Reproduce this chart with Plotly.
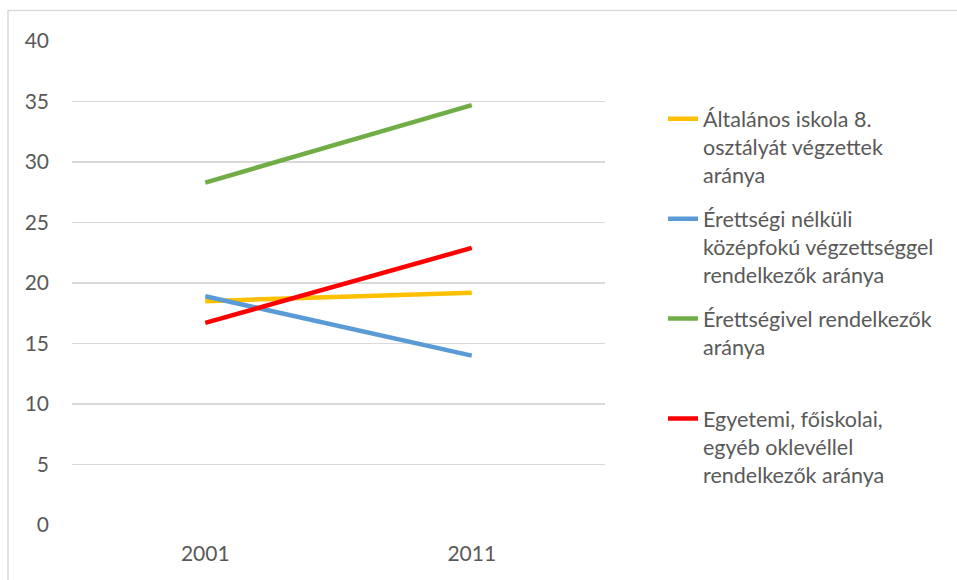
import plotly.graph_objects as go

years = ["2001", "2011"]
altalanos = [18.5, 19.2]
szakmunkas = [18.9, 14.0]
erettsegi = [28.3, 34.7]
diploma = [16.7, 22.9]

names = [
    "Általános iskola 8.<br>osztályát végzettek<br>aránya",
    "Érettségi nélküli<br>középfokú végzettséggel<br>rendelkezők aránya",
    "Érettségivel rendelkezők<br>aránya<br> ",
    "Egyetemi, főiskolai,<br>egyéb oklevéllel<br>rendelkezők aránya",
]
series = [altalanos, szakmunkas, erettsegi, diploma]
colors = ["#FFC000", "#5B9BD5", "#70AD47", "#FF0000"]

y_ticks = [0, 5, 10, 15, 20, 25, 30, 35, 40]

FONT = "Lato"
TXT = "#595959"

fig = go.Figure()
for i, (nm, vals, col) in enumerate(zip(names, series, colors)):
    fig.add_trace(go.Scatter(
        x=years, y=vals, mode="lines", name=nm,
        legendgroup=f"g{i}",
        line=dict(color=col, width=4.5),
        hoverinfo="skip",
    ))

L, R, T, B = 72, 352, 40.5, 54.5
W, H = 957, 580
pw = W - L - R
ph = H - T - B

def px_x(p):
    return (p - L) / pw

def px_y(p):
    return (H - B - p) / ph

fig.update_layout(
    width=W, height=H,
    margin=dict(l=L, r=R, t=T, b=B, autoexpand=False),
    paper_bgcolor="white", plot_bgcolor="white",
    font=dict(family=FONT, size=21, color=TXT),
    xaxis=dict(type="category", range=[-0.5, 1.5], showgrid=False,
               showline=False, zeroline=False, ticks="", ticklabelstandoff=14),
    yaxis=dict(range=[0, 40], tickvals=y_ticks, showgrid=True,
               gridcolor="#D9D9D9", gridwidth=1.2, zeroline=False,
               showline=False, ticks="", ticklabelstandoff=22),
    legend=dict(x=px_x(663), y=px_y(98), xanchor="left", yanchor="top",
                font=dict(family=FONT, size=21.5, color=TXT),
                valign="top", tracegroupgap=13, bgcolor="rgba(0,0,0,0)"),
    showlegend=True,
    shapes=[dict(type="rect", xref="paper", yref="paper",
                 x0=px_x(8), x1=px_x(970), y0=px_y(590), y1=px_y(10),
                 line=dict(color="#D9D9D9", width=1.5), layer="below")],
)

fig.write_html(
    "out.html",
    config={"displayModeBar": False, "staticPlot": True},
    post_script="document.body.style.margin='0';document.body.style.overflow='hidden';",
)
